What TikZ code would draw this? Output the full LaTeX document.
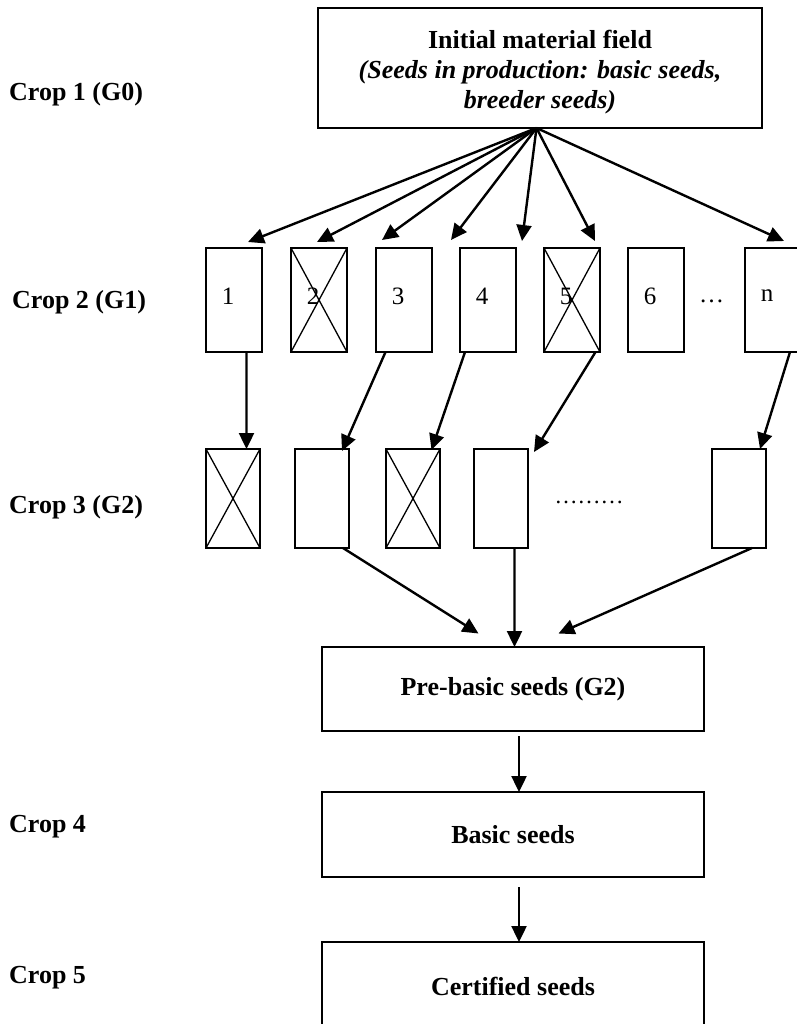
\documentclass[tikz,border=0pt]{standalone}
\usepackage{fontspec}
\setmainfont{Liberation Serif}
\usetikzlibrary{arrows.meta}
\begin{document}
\begin{tikzpicture}[x=1bp,y=-1bp,
  box/.style={draw, line width=2.4bp, inner sep=0pt, outer sep=0pt, anchor=north west},
  gbox/.style={box, minimum width=56bp, minimum height=104bp},
  hbox/.style={box, minimum width=54bp, minimum height=99bp},
  bigbox/.style={box, minimum width=382bp, font=\fontsize{26bp}{29bp}\selectfont\bfseries},
  crossline/.style={line width=1.3bp},
  conn/.style={line width=2.4bp, -{Triangle[length=16bp,width=15bp]}},
  croplbl/.style={anchor=base west, inner sep=0pt, font=\fontsize{26bp}{29bp}\selectfont\bfseries},
  num/.style={xshift=-6bp, yshift=4bp, inner sep=0pt, font=\fontsize{25bp}{29bp}\selectfont},
  toptext/.style={yshift=-4bp, inner sep=0pt, align=center, font=\fontsize{26bp}{30bp}\selectfont\bfseries}
]
\useasboundingbox (0,0) rectangle (797,1024);

% left labels
\node[croplbl] (c1) at (9,100) {Crop 1 (G0)};
\node[croplbl] (c2) at (12,308) {Crop 2 (G1)};
\node[croplbl] (c3) at (9,513) {Crop 3 (G2)};
\node[croplbl] (c4) at (9,832) {Crop 4};
\node[croplbl] (c5) at (9,983) {Crop 5};

% top box
\node[box, minimum width=444bp, minimum height=120bp,
      label={[toptext]center:Initial material field\\ \textit{(Seeds in production: basic seeds,}\\ \textit{breeder seeds)}}] (top) at (318,8) {};

% G1 row
\node[gbox, label={[num]center:1}] (g1a) at (206,248) {};
\node[gbox, label={[num]center:2}] (g1b) at (291,248) {};
\node[gbox, label={[num]center:3}] (g1c) at (376,248) {};
\node[gbox, label={[num]center:4}] (g1d) at (460,248) {};
\node[gbox, label={[num]center:5}] (g1e) at (544,248) {};
\node[gbox, label={[num]center:6}] (g1f) at (628,248) {};
\node[gbox, label={[num]center:n}] (g1n) at (745,248) {};
\node[anchor=base, inner sep=0pt, font=\fontsize{25bp}{29bp}\selectfont] (dots1) at (711.5,302) {…};
\draw[crossline] (g1b.north west) -- (g1b.south east) (g1b.south west) -- (g1b.north east);
\draw[crossline] (g1e.north west) -- (g1e.south east) (g1e.south west) -- (g1e.north east);

% G2 row
\node[hbox] (g2a) at (206,449) {};
\node[hbox] (g2b) at (295,449) {};
\node[hbox] (g2c) at (386,449) {};
\node[hbox] (g2d) at (474,449) {};
\node[hbox] (g2e) at (712,449) {};
\node[anchor=base, inner sep=0pt, font=\fontsize{23bp}{29bp}\selectfont] (dots2) at (589,503.5) {………};
\draw[crossline] (g2a.north west) -- (g2a.south east) (g2a.south west) -- (g2a.north east);
\draw[crossline] (g2c.north west) -- (g2c.south east) (g2c.south west) -- (g2c.north east);

% lower boxes
\node[bigbox, minimum height=84bp] (pre) at (322,647) {Pre-basic seeds (G2)};
\node[bigbox, minimum height=85bp] (basic) at (322,792) {Basic seeds};
\node[bigbox, minimum height=88bp] (cert) at (322,942) {Certified seeds};

% free arrow ends
\coordinate (t1) at (248,242);
\coordinate (t2) at (317,242);
\coordinate (t3) at (382,240);
\coordinate (t4) at (451,240);
\coordinate (t5) at (522,241);
\coordinate (t6) at (595,241);
\coordinate (t7) at (784,241);
\coordinate (u5) at (534,452);
\coordinate (p1) at (478.5,633.5);
\coordinate (p3) at (558.5,633.5);

% G0 -> G1
\foreach \t in {t1,t2,t3,t4,t5,t6,t7}
  \draw[conn] ([xshift=-3.5bp]top.south) -- (\t);

% G1 -> G2
\draw[conn] ([xshift=12.5bp]g1a.south) -- ([xshift=13.5bp]g2a.north);
\draw[conn] ([xshift=-18.5bp]g1c.south) -- ([xshift=20bp,yshift=-2bp]g2b.north);
\draw[conn] ([xshift=-23bp]g1d.south) -- ([xshift=18.5bp,yshift=-1bp]g2c.north);
\draw[conn] ([xshift=23.5bp]g1e.south) -- (u5);
\draw[conn] ([xshift=17bp]g1n.south) -- ([xshift=21bp]g2e.north);

% G2 -> pre-basic
\draw[conn] ([xshift=21bp]g2b.south) -- (p1);
\draw[conn] ([xshift=13.5bp]g2d.south) -- ([xshift=1.5bp]pre.north);
\draw[conn] ([xshift=13bp]g2e.south) -- (p3);

% vertical chain
\draw[conn] ([xshift=6bp,yshift=-5bp]pre.south) -- ([xshift=6bp]basic.north);
\draw[conn] ([xshift=6bp,yshift=-10bp]basic.south) -- ([xshift=6bp]cert.north);
\end{tikzpicture}
\end{document}
